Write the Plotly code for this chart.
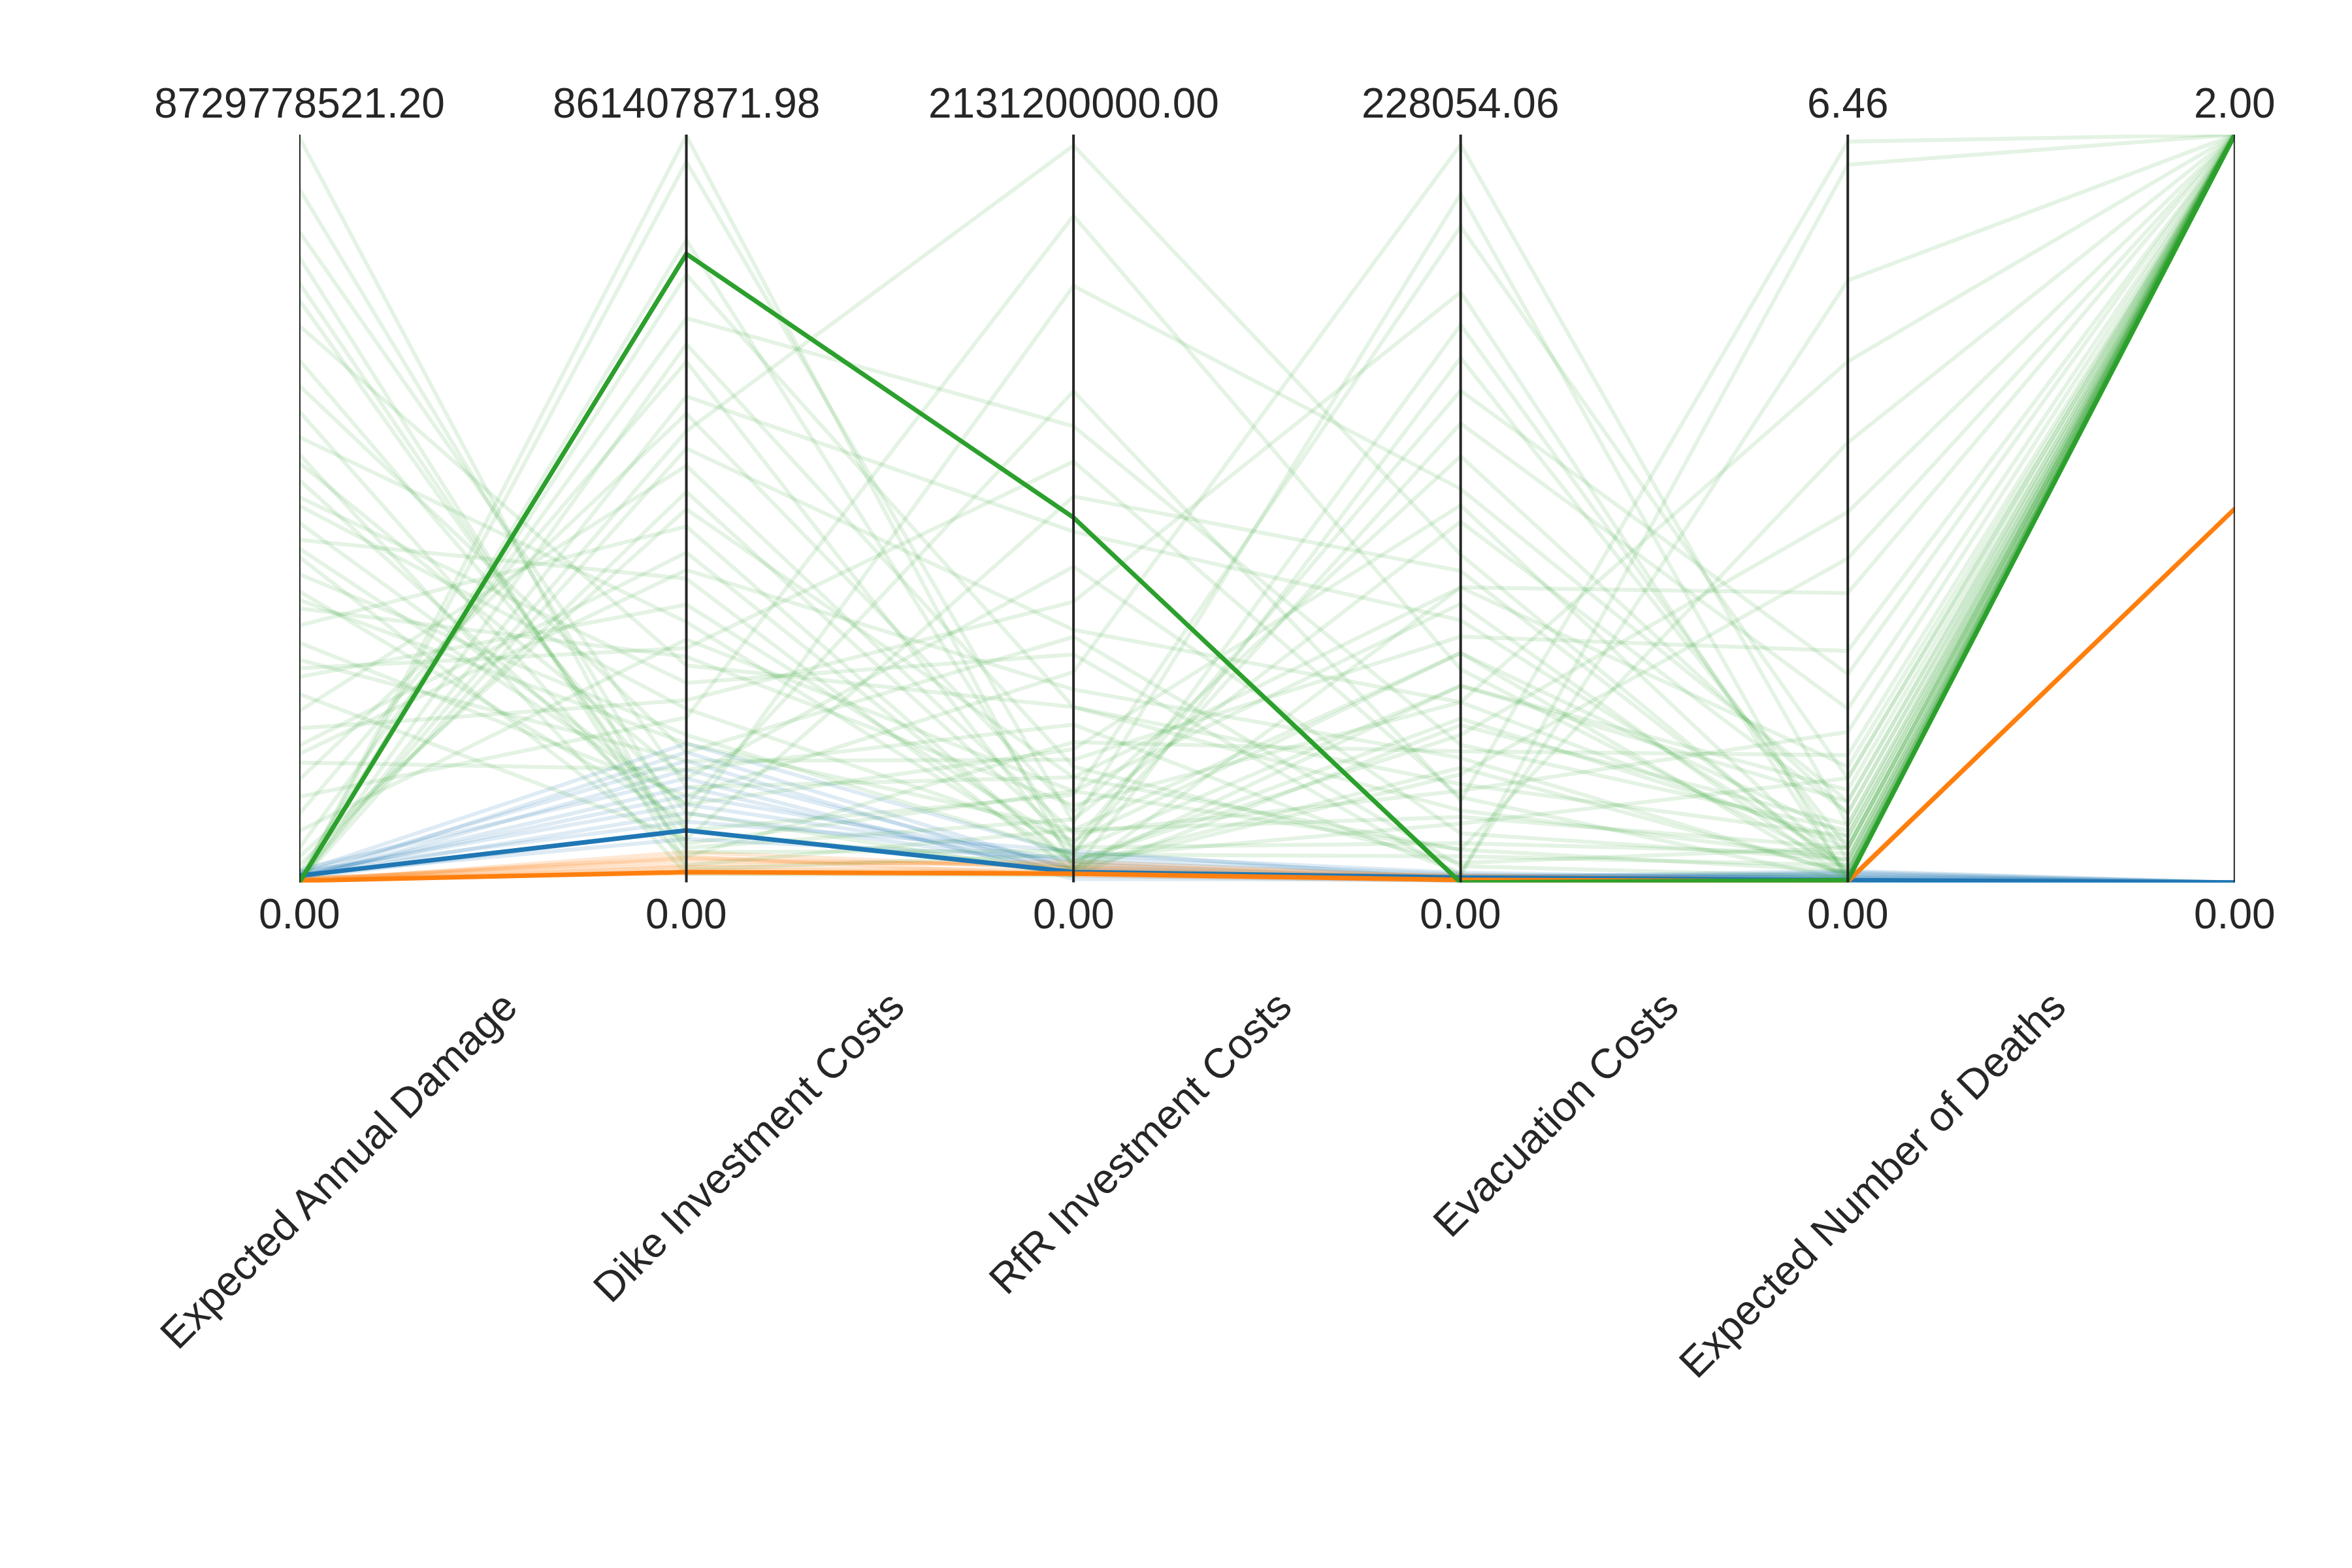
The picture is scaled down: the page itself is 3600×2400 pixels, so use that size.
import plotly.graph_objects as go

columns = ["Expected Annual Damage", "Dike Investment Costs", "RfR Investment Costs",
           "Evacuation Costs", "Expected Number of Deaths", "Case"]
top_labels = ["8729778521.20", "861407871.98", "2131200000.00", "228054.06", "6.46", "2.00"]
bottom_labels = ["0.00"] * 6
col_max = [8729778521.20, 861407871.98, 2131200000.00, 228054.06, 6.46, 2.00]

# green case (2): EAD [bn], Dike [m], RfR [m], Evac [k], Deaths
ead_green = [8.7, 8.1, 7.6, 7.0, 6.5, 6.1, 5.8, 5.5, 5.2, 4.9, 4.7, 4.4, 4.2, 4.0, 3.8, 3.6, 3.4, 3.2, 3.0, 2.8,
             2.6, 2.4, 2.2, 2.0, 1.8, 1.6, 1.4, 1.2, 1.0, 0.8, 0.6, 0.4, 0.2, 0.1, 0.05, 0.0, 0.0, 0.0, 0.0, 0.0,
             5.0, 4.5, 3.9, 3.3, 2.5, 6.8, 7.3, 1.5, 0.3, 0.0]
dike_green = [20, 60, 110, 35, 250, 80, 150, 40, 300, 120, 60, 200, 90, 350, 30, 170, 70, 260, 410, 100,
              140, 320, 50, 480, 210, 380, 130, 540, 190, 600, 280, 650, 450, 700, 520, 740, 620, 830, 860, 560,
              10, 230, 90, 160, 270, 45, 15, 360, 430, 500]
rfr_green = [150, 40, 300, 90, 500, 20, 700, 180, 60, 900, 250, 120, 1400, 30, 400, 80, 1700, 220, 50, 600,
             350, 100, 1100, 140, 800, 60, 450, 200, 1900, 70, 260, 1300, 110, 500, 2100, 90, 330, 170, 40, 1000,
             20, 650, 380, 150, 1200, 260, 80, 550, 300, 720]
evac_green = [20, 60, 10, 140, 30, 90, 5, 110, 45, 15, 200, 70, 25, 160, 40, 8, 120, 55, 35, 225,
              75, 12, 95, 28, 180, 50, 3, 130, 65, 18, 85, 42, 150, 22, 100, 60, 6, 210, 33, 80,
              48, 2, 115, 70, 26, 10, 170, 38, 90, 55]
deaths_green = [0.3, 0.8, 0.1, 1.5, 0.4, 2.5, 0.05, 0.6, 3.2, 0.2, 0.9, 0.02, 6.4, 0.3, 1.1, 0.15, 0.7, 4.5, 0.08, 0.5,
                2.0, 0.25, 0.1, 1.3, 0.04, 0.35, 5.2, 0.6, 0.12, 0.9, 0.03, 0.45, 1.8, 0.2, 0.06, 0.7, 0.3, 0.01, 2.8, 0.15,
                0.5, 6.2, 0.1, 0.4, 0.02, 3.8, 0.2, 0.07, 1.0, 0.3]

ead_blue = [0.05, 0.08, 0.1, 0.12, 0.06, 0.15, 0.09, 0.04, 0.11, 0.07, 0.13, 0.03]
dike_blue = [60, 100, 140, 160, 80, 120, 50, 150, 90, 110, 70, 130]
rfr_blue = [30, 60, 20, 80, 45, 10, 70, 35, 55, 25, 90, 40]
evac_blue = [1, 2, 0.5, 3, 1.5, 0.8, 2.5, 1.2, 0.3, 2, 1, 0.6]
deaths_blue = [0.02, 0.05, 0.08, 0.03, 0.1, 0.06, 0.04, 0.09, 0.01, 0.07, 0.05, 0.03]

ead_orange = [0.02, 0.04, 0.03, 0.05, 0.01, 0.06, 0.03, 0.02]
dike_orange = [15, 25, 30, 20, 35, 10, 28, 18]
rfr_orange = [30, 50, 20, 60, 40, 25, 45, 35]
evac_orange = [1, 2, 0.5, 1.5, 0.8, 2.2, 1.2, 0.6]
deaths_orange = [0.01, 0.02, 0.005, 0.015, 0.01, 0.02, 0.008, 0.012]

best_green = [0.0, 724e6, 1040e6, 0.0, 0.02, 2.0]
best_blue = [0.08e9, 60e6, 30e6, 1500, 0.02, 0.0]
best_orange = [0.02e9, 12e6, 25e6, 800, 0.01, 1.0]

def rows(ead, dike, rfr, evac, deaths, case):
    return [[e * 1e9, d * 1e6, r * 1e6, v * 1e3, n, case]
            for e, d, r, v, n in zip(ead, dike, rfr, evac, deaths)]

def poly(rs):
    xs, ys = [], []
    for r in rs:
        xs += list(range(6)) + [None]
        ys += [v / m for v, m in zip(r, col_max)] + [None]
    return xs, ys

fig = go.Figure()
groups = [
    (rows(ead_blue, dike_blue, rfr_blue, evac_blue, deaths_blue, 0.0), "rgba(31,119,180,0.15)"),
    (rows(ead_orange, dike_orange, rfr_orange, evac_orange, deaths_orange, 1.0), "rgba(255,127,14,0.18)"),
    (rows(ead_green, dike_green, rfr_green, evac_green, deaths_green, 2.0), "rgba(44,160,44,0.13)"),
]
for rs, c in groups:
    x, y = poly(rs)
    fig.add_trace(go.Scatter(x=x, y=y, mode="lines", line=dict(color=c, width=6), hoverinfo="skip"))
for r, c in [(best_blue, "#1f77b4"), (best_orange, "#ff7f0e"), (best_green, "#2ca02c")]:
    x, y = poly([r])
    fig.add_trace(go.Scatter(x=x, y=y, mode="lines", line=dict(color=c, width=7), hoverinfo="skip"))

for i in range(6):
    fig.add_shape(type="line", x0=i, x1=i, y0=0, y1=1, xref="x", yref="y",
                  line=dict(color="#262626", width=4))
    fig.add_annotation(x=i, y=1, xref="x", yref="y", text=top_labels[i], showarrow=False,
                       yanchor="bottom", yshift=10, font=dict(size=64))
    fig.add_annotation(x=i, y=0, xref="x", yref="y", text=bottom_labels[i], showarrow=False,
                       yanchor="top", yshift=-10, font=dict(size=64))
    fig.add_annotation(x=i, y=0, xref="x", yref="y", text=columns[i], showarrow=False,
                       textangle=-45, xanchor="right", yanchor="top", xshift=350, yshift=-150,
                       font=dict(size=64))

fig.update_layout(
    width=3600, height=2400, showlegend=False,
    plot_bgcolor="white", paper_bgcolor="white",
    margin=dict(l=0, r=0, t=0, b=0),
    font=dict(family="Liberation Sans, Arial", color="#262626"),
    xaxis=dict(range=[0, 5], domain=[0.125, 0.948], visible=False),
    yaxis=dict(range=[0, 1], domain=[0.4405, 0.9175], visible=False),
)
fig.write_html("out.html")
